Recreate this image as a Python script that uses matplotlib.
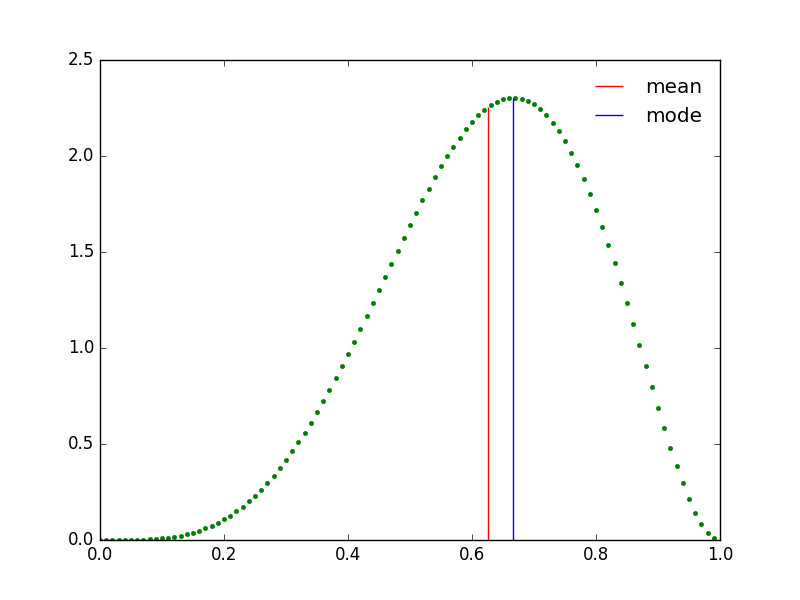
import matplotlib
matplotlib.use("Agg")
import matplotlib.pyplot as plt

plt.style.use('classic')

x_vals = [i / 100 for i in range(100)]
pdf_vals = [
    0.0, 0.000001, 0.000016, 0.000080, 0.000248, 0.000592, 0.001202, 0.002180, 0.003640, 0.005705,
    0.008505, 0.012177, 0.016861, 0.022699, 0.029833, 0.038405, 0.048554, 0.060414, 0.074115, 0.089779,
    0.107520, 0.127445, 0.149647, 0.174214, 0.201216, 0.230713, 0.262752, 0.297365, 0.334570, 0.374367,
    0.416745, 0.461672, 0.509105, 0.558978, 0.611213, 0.665715, 0.722370, 0.781047, 0.841602, 0.903873,
    0.967680, 1.032829, 1.099114, 1.166306, 1.234173, 1.302461, 1.370908, 1.439237, 1.507166, 1.574396,
    1.640625, 1.705541, 1.768826, 1.830157, 1.889209, 1.945652, 1.999156, 2.049395, 2.096042, 2.138775,
    2.177280, 2.211250, 2.240388, 2.264409, 2.283043, 2.296037, 2.303153, 2.304180, 2.298926, 2.287226,
    2.268945, 2.243978, 2.212255, 2.173744, 2.128448, 2.076416, 2.017744, 1.952576, 1.881105, 1.803584,
    1.720320, 1.631686, 1.538118, 1.440122, 1.338279, 1.233240, 1.125743, 1.016607, 0.906739, 0.797140,
    0.688905, 0.583230, 0.481416, 0.384872, 0.295124, 0.213808, 0.142691, 0.083660, 0.038740, 0.010086,
]

mean_x = 0.625
mean_y = 2.25306
mode_x = 2 / 3
mode_y = 2.30453

fig = plt.figure(figsize=(8, 6), dpi=100, facecolor='white')
ax = fig.add_subplot(111)
ax.plot(x_vals, pdf_vals, 'g.')
ax.vlines(mean_x, 0, mean_y, colors='r', label='mean')
ax.vlines(mode_x, 0, mode_y, colors='b', label='mode')
ax.set_xlim(0, 1)
ax.set_ylim(0, 2.5)
ax.legend(loc='upper right', frameon=False)
fig.savefig('out.png', dpi=100, facecolor='white')
